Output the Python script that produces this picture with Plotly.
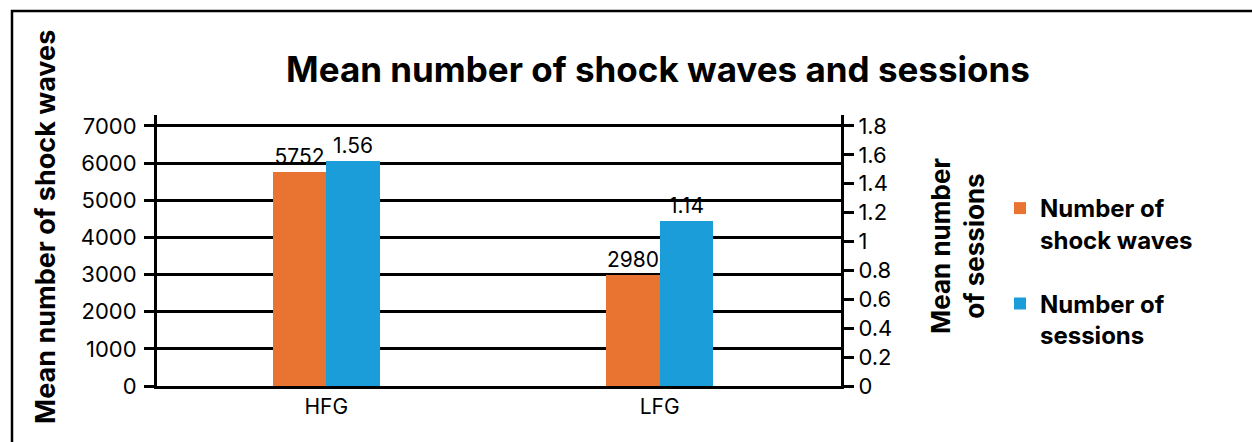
import plotly.graph_objects as go

categories = ["HFG", "LFG"]
shock_waves = [5752, 2980]
sessions = [1.56, 1.14]
shock_labels = ["5752", "2980"]
session_labels = ["1.56", "1.14"]

orange = "#E97432"
blue = "#1B9DD9"
font = "Inter, 'Open Sans', sans-serif"

# plot area in pixels, used to place the outside texts
W, H = 1252, 442
L, R, T, B = 157, 841, 115, 386
pw, ph = R - L, B - T


def px(x):
    return (x - L) / pw


def py(y):
    return (B - y) / ph


fig = go.Figure()
fig.add_trace(go.Bar(x=categories, y=shock_waves, name="Number of<br>shock waves",
                     marker=dict(color=orange, line=dict(width=0)),
                     width=0.16, offset=-0.16, text=shock_labels, textposition="outside",
                     textfont=dict(size=21, color="black"), cliponaxis=False,
                     legendgroup="a"))
fig.add_trace(go.Bar(x=categories, y=sessions, name="Number of<br>sessions", yaxis="y2",
                     marker=dict(color=blue, line=dict(width=0)),
                     width=0.16, offset=0, text=session_labels, textposition="outside",
                     textfont=dict(size=21, color="black"), cliponaxis=False,
                     legendgroup="b"))

fig.update_layout(
    width=W, height=H,
    margin=dict(l=L, r=W - R, t=T, b=H - B, pad=0),
    paper_bgcolor="white", plot_bgcolor="white",
    font=dict(family=font, color="black"),
    title=dict(text="<b>Mean number of shock waves and sessions</b>",
               font=dict(size=35, color="black"),
               xref="container", x=658 / W, xanchor="center",
               yref="container", y=1 - 70 / H, yanchor="middle"),
    showlegend=True,
    legend=dict(x=px(1000), y=py(186), xanchor="left", yanchor="top",
                font=dict(size=24, color="black", family=font, weight="bold"),
                traceorder="grouped", tracegroupgap=30, valign="top",
                bgcolor="rgba(0,0,0,0)"),
    xaxis=dict(range=[-0.508, 1.544], showgrid=False, showline=True,
               linecolor="black", linewidth=3, ticks="", ticklabelstandoff=0,
               tickfont=dict(size=21)),
    yaxis=dict(range=[0, 7296], dtick=1000, showgrid=True, gridcolor="black",
               gridwidth=2.5, showline=True, linecolor="black", linewidth=3,
               ticks="outside", ticklen=10, tickwidth=2.5, tickcolor="black",
               ticklabelstandoff=3, tickfont=dict(size=22), zeroline=False),
    yaxis2=dict(range=[0, 1.8 * 7296 / 7000], dtick=0.2, overlaying="y", side="right",
                showgrid=False, showline=True, linecolor="black", linewidth=3,
                ticks="outside", ticklen=10, tickwidth=2.5, tickcolor="black",
                ticklabelstandoff=0, tickfont=dict(size=22), zeroline=False),
    bargap=0,
)

fig.add_annotation(text="<b>Mean number of shock waves</b>", textangle=-90,
                   xref="paper", yref="paper", x=px(45), y=py(227),
                   xanchor="center", yanchor="middle",
                   showarrow=False, font=dict(size=27, color="black"))
fig.add_annotation(text="<b>Mean number<br>of sessions</b>", textangle=-90,
                   xref="paper", yref="paper", x=px(957), y=py(246),
                   xanchor="center", yanchor="middle",
                   showarrow=False, font=dict(size=26, color="black"))

# frame round the figure
fig.add_shape(type="rect", xref="paper", yref="paper",
              x0=px(12), x1=px(1270), y0=py(460), y1=py(11),
              line=dict(color="black", width=2.5), layer="above")

fig.write_html("out.html", config={"displayModeBar": False},
               post_script="document.body.style.margin='0px';")
